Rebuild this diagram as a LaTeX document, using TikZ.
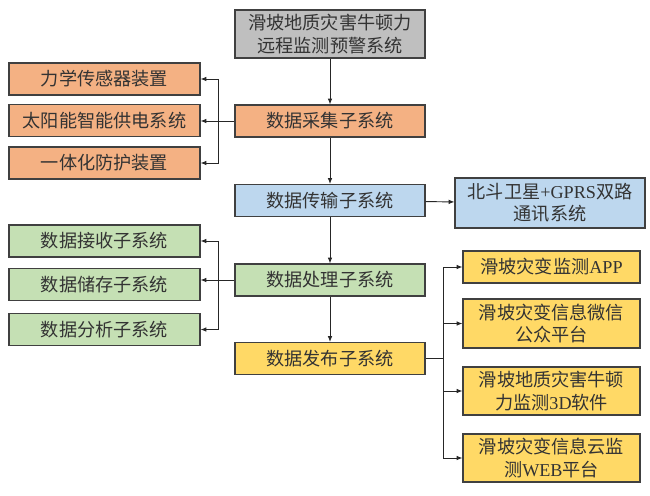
\documentclass[tikz,border=0pt]{standalone}
\usepackage{fontspec}
\setmainfont{Liberation Serif}
\newfontfamily\cjk{Noto Sans CJK SC}
\usetikzlibrary{arrows.meta}
\usetikzlibrary{positioning}

\definecolor{boxgray}{HTML}{BFBFBF}
\definecolor{boxorange}{HTML}{F4B183}
\definecolor{boxblue}{HTML}{BDD7EE}
\definecolor{boxgreen}{HTML}{C5E0B4}
\definecolor{boxyellow}{HTML}{FFD966}
\definecolor{edgegray}{HTML}{404040}
\definecolor{textgray}{HTML}{333333}

\begin{document}
\begin{tikzpicture}[x=0.03cm,y=-0.03cm,
  box/.style={draw=edgegray,line width=0.9pt,inner sep=0pt,align=center,
    text=textgray,font=\cjk\fontsize{15.5}{19}\selectfont},
  mainbox/.style={box,minimum width=5.7cm,minimum height=0.96cm},
  sidebox/.style={box,minimum width=5.73cm,minimum height=0.96cm},
  outbox/.style={box,minimum width=5.31cm},
  link/.style={draw=black!85,line width=0.8pt},
  arr/.style={link,-{Latex[length=5pt,width=4pt]}}]
  \useasboundingbox (0,0) rectangle (650,495);

  % main column
  \node[mainbox,fill=boxgray,minimum height=1.44cm] (top) at (330,34) {滑坡地质灾害牛顿力\\远程监测预警系统};
  \node[mainbox,fill=boxorange] (acq) at (330,121) {数据采集子系统};
  \node[mainbox,fill=boxblue] (trans) at (330,200.5) {数据传输子系统};
  \node[mainbox,fill=boxgreen] (proc) at (330,280) {数据处理子系统};
  \node[mainbox,fill=boxyellow] (pub) at (330,358.5) {数据发布子系统};

  % acquisition parts
  \node[sidebox,fill=boxorange] (mech) at (104.5,79) {力学传感器装置};
  \node[sidebox,fill=boxorange] (solar) at (104.5,120.5) {太阳能智能供电系统};
  \node[sidebox,fill=boxorange] (prot) at (104.5,163) {一体化防护装置};

  % transmission
  \node[box,fill=boxblue,minimum width=5.7cm,minimum height=1.5cm] (bd) at (550,203)
    {北斗卫星\textrm{+GPRS}双路\\通讯系统};

  % processing parts
  \node[sidebox,fill=boxgreen] (recv) at (104.5,241) {数据接收子系统};
  \node[sidebox,fill=boxgreen] (store) at (104.5,284.5) {数据储存子系统};
  \node[sidebox,fill=boxgreen] (anal) at (104.5,329.5) {数据分析子系统};

  % publishing outputs
  \node[outbox,fill=boxyellow,minimum height=0.96cm] (app) at (551.5,267) {滑坡灾变监测\textrm{APP}};
  \node[outbox,fill=boxyellow,minimum height=1.47cm] (wx) at (551.5,323.5) {滑坡灾变信息微信\\公众平台};
  \node[outbox,fill=boxyellow,minimum height=1.44cm] (soft) at (551.5,391) {滑坡地质灾害牛顿\\力监测\textrm{3D}软件};
  \node[outbox,fill=boxyellow,minimum height=1.44cm] (web) at (551.5,458) {滑坡灾变信息云监\\测\textrm{WEB}平台};

  \coordinate (acqj) at (218,121);
  \coordinate (procj) at (218,280);
  \coordinate (pubj) at (443,358.5);

  % connectors
  \draw[arr] (top) -- (acq);
  \draw[arr] (acq) -- (trans);
  \draw[arr] (trans) -- (proc);
  \draw[arr] (proc) -- (pub);
  \draw[arr] (trans) -- (bd);

  \draw[link] (acq.west) -- (acqj);
  \draw[arr] (acqj) |- (mech.east);
  \draw[arr] (acqj) -- (solar.east |- acqj);
  \draw[arr] (acqj) |- (prot.east);

  \draw[link] (proc.west) -- (procj);
  \draw[arr] (procj) |- (recv.east);
  \draw[arr] (procj) -- (store.east |- procj);
  \draw[arr] (procj) |- (anal.east);

  \draw[link] (pub.east) -- (pubj);
  \draw[arr] (pubj) |- (app.west);
  \draw[arr] (pubj) |- (wx.west);
  \draw[arr] (pubj) |- (soft.west);
  \draw[arr] (pubj) |- (web.west);
\end{tikzpicture}
\end{document}
